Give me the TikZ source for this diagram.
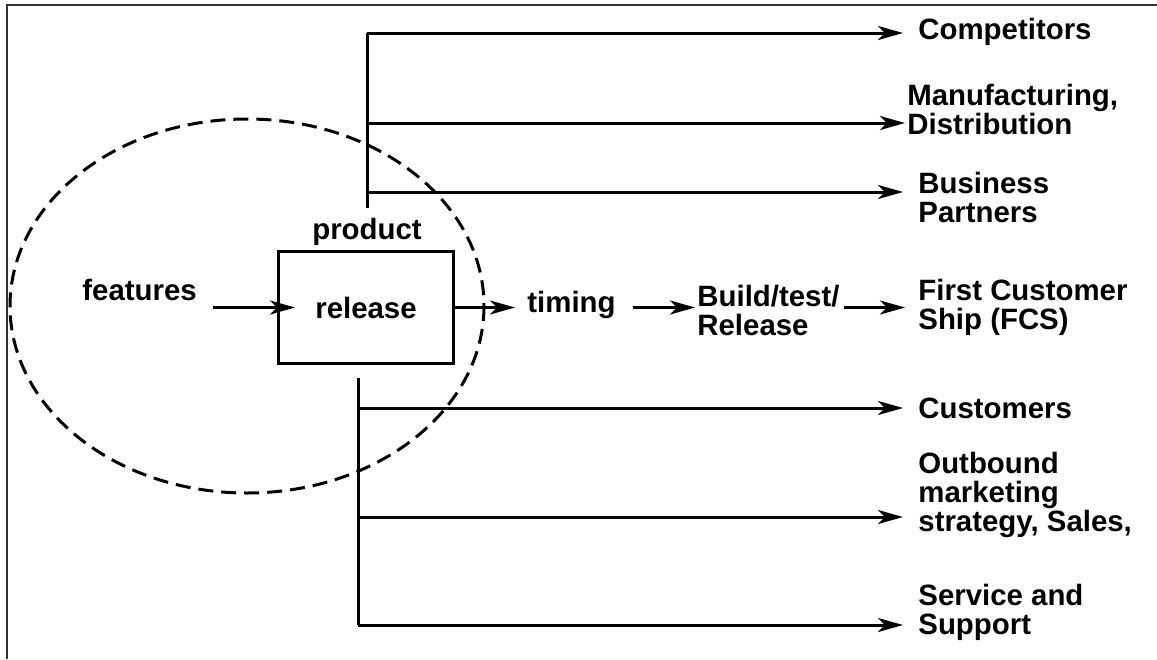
\documentclass[tikz,border=0pt]{standalone}
\usepackage{fontspec}
\setmainfont{Liberation Sans}
\usetikzlibrary{arrows.meta}
\begin{document}
\begin{tikzpicture}[x=0.5pt,y=-0.5pt,
  lbl/.style={font=\bfseries\fontsize{14.7pt}{14.5pt}\selectfont, inner sep=0pt, align=left},
  flow/.style={line width=1.5pt, -{Stealth[length=12.5pt,width=7pt,inset=3.5pt]}},
  busline/.style={line width=1.5pt},
  frameline/.style={line width=1pt, black!80},
  relbox/.style={draw, line width=1.5pt, minimum width=87.5pt, minimum height=56pt, inner sep=0pt,
    font=\bfseries\fontsize{14.7pt}{14.5pt}\selectfont},
  scope ring/.style={line width=1.5pt, dash pattern=on 7.5pt off 4pt}
]
\useasboundingbox (0,0) rectangle (1157,659);

% open frame: top and left edges only
\draw[frameline] (7,659) -- (7,5) -- (1157,5);

% central release box and its labels
\node[relbox] (rel) at (366,307.5) {release};
\node[lbl] (prod) at (367,232) {product};
\node[lbl, anchor=west] (fe) at (82,290) {features};

% the dashed scope around the release
\draw[scope ring] (247,306) ellipse [x radius=237, y radius=187];

% timing chain
\node[lbl, anchor=west] (tm) at (527,305) {timing};
\node[lbl, anchor=west] (bd) at (697,310) {Build/test/\\Release};
\node[lbl, anchor=west] (fcs) at (918,307.5) {First Customer\\Ship (FCS)};

\draw[flow, shorten <=8pt, shorten >=-9pt] (fe.east |- rel.west) -- (rel.west);
\draw[flow, shorten >=6pt] (rel.east) -- (tm.west |- rel.east);
\draw[flow, shorten <=8.75pt, shorten >=1pt] (tm.east |- rel.east) -- (bd.west |- rel.east);
\draw[flow, shorten <=2pt, shorten >=6.5pt] (bd.east |- rel.east) -- (fcs.west |- rel.east);

% upstream audiences
\node[lbl, anchor=west] (comp) at (918,32) {Competitors};
\node[lbl, anchor=west] (manu) at (907,109) {Manufacturing,\\Distribution};
\node[lbl, anchor=west] (bus) at (918,197) {Business\\Partners};

\coordinate (ua) at (367,33);
\coordinate (ub) at (367,123);
\coordinate (uc) at (367,192);
\coordinate (ue) at (367,208);
\draw[busline] (ua) -- (ue);
\draw[flow, shorten >=7.5pt] (ua) -- (ua -| comp.west);
\draw[flow, shorten >=1pt] (ub) -- (ub -| manu.west);
\draw[flow, shorten >=7.5pt] (uc) -- (uc -| bus.west);

% downstream audiences
\node[lbl, anchor=west] (cust) at (918,408) {Customers};
\node[lbl, anchor=west] (outb) at (918,495) {Outbound\\marketing\\strategy, Sales,};
\node[lbl, anchor=west] (serv) at (918,612) {Service and\\Support};

\coordinate (ls) at (358,378);
\coordinate (la) at (358,408);
\coordinate (lb) at (358,517);
\coordinate (lc) at (358,625);
\draw[busline] (ls) -- (lc);
\draw[flow, shorten >=7.5pt] (la) -- (la -| cust.west);
\draw[flow, shorten >=7.5pt] (lb) -- (lb -| outb.west);
\draw[flow, shorten >=7.5pt] (lc) -- (lc -| serv.west);
\end{tikzpicture}
\end{document}
